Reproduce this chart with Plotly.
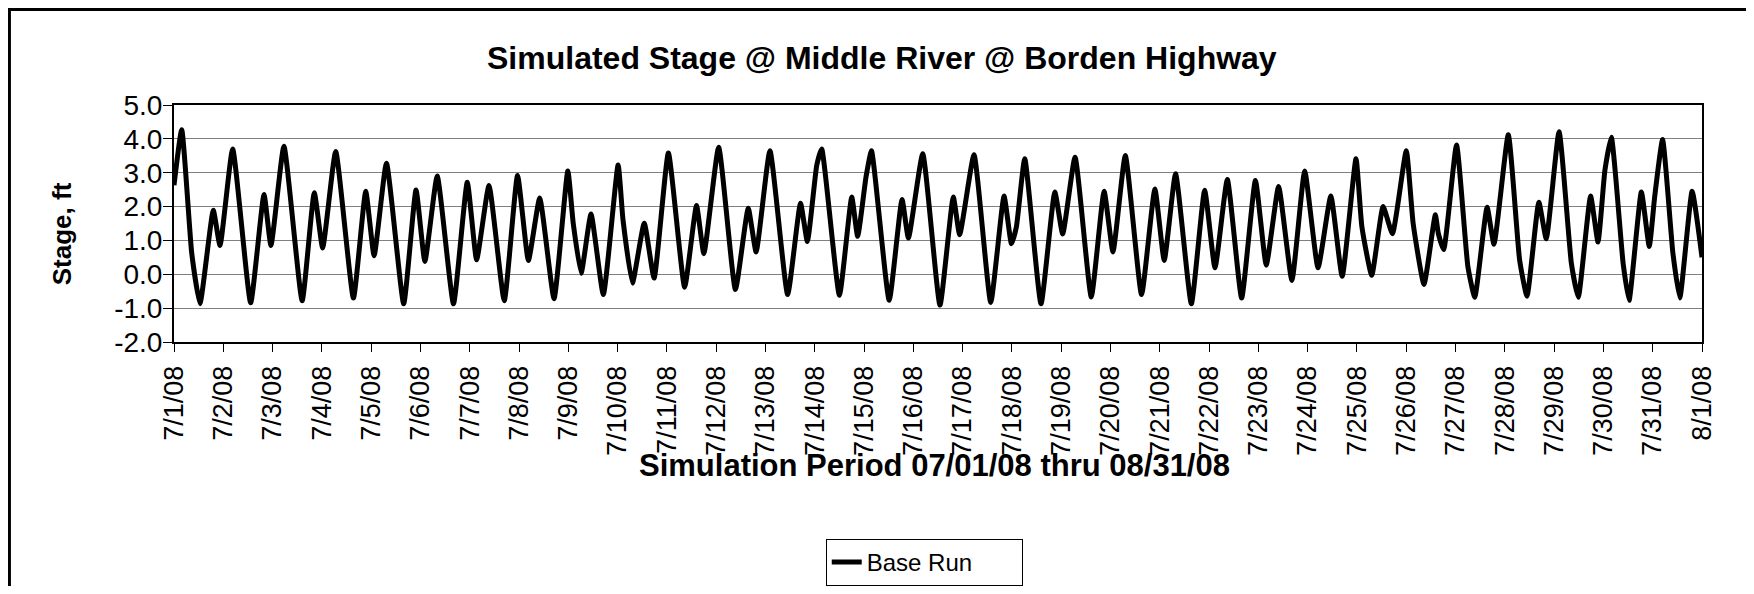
import pandas as pd
import plotly.graph_objects as go

# Elapsed time (days after 7/1/08 00:00) of readable turning points, and stage (ft)
elapsed_days = [
    0.00, 0.156, 0.36, 0.527, 0.797, 0.933, 1.19, 1.555, 1.826, 1.967,
    2.23, 2.60, 2.846, 3.016, 3.28, 3.64, 3.89, 4.06, 4.31, 4.66,
    4.91, 5.09, 5.34, 5.67, 5.95, 6.14, 6.39, 6.70, 6.97, 7.19,
    7.42, 7.71, 7.99, 8.10, 8.26, 8.46, 8.71, 9.01, 9.11, 9.30,
    9.54, 9.74, 10.03, 10.36, 10.60, 10.75, 11.05, 11.39, 11.65, 11.81,
    12.09, 12.45, 12.71, 12.85, 13.04, 13.14, 13.50, 13.75, 13.87, 14.04,
    14.15, 14.51, 14.77, 14.90, 15.19, 15.54, 15.81, 15.94, 16.23, 16.57,
    16.84, 16.99, 17.09, 17.26, 17.59, 17.87, 18.03, 18.28, 18.61, 18.87,
    19.05, 19.30, 19.63, 19.90, 20.09, 20.32, 20.64, 20.91, 21.12, 21.37,
    21.66, 21.94, 22.16, 22.41, 22.68, 22.94, 23.21, 23.47, 23.70, 23.98,
    24.10, 24.30, 24.53, 24.72, 25.00, 25.14, 25.36, 25.59, 25.65, 25.76,
    26.02, 26.25, 26.39, 26.64, 26.78, 27.07, 27.30, 27.45, 27.69, 27.84,
    28.10, 28.35, 28.49, 28.74, 28.89, 29.03, 29.16, 29.40, 29.52, 29.77,
    29.93, 30.04, 30.20, 30.41, 30.55, 30.80, 31.00,
]
stage_ft = [
    2.63, 4.27, 0.62, -0.87, 1.89, 0.85, 3.70, -0.84, 2.36, 0.85,
    3.78, -0.78, 2.41, 0.78, 3.63, -0.70, 2.45, 0.55, 3.28, -0.87,
    2.49, 0.38, 2.90, -0.87, 2.72, 0.43, 2.62, -0.78, 2.92, 0.41,
    2.25, -0.72, 3.05, 1.50, 0.03, 1.78, -0.60, 3.23, 1.60, -0.26,
    1.51, -0.11, 3.58, -0.38, 2.03, 0.61, 3.75, -0.45, 1.95, 0.66,
    3.65, -0.60, 2.10, 0.97, 3.22, 3.70, -0.62, 2.28, 1.12, 2.88,
    3.65, -0.77, 2.21, 1.07, 3.56, -0.91, 2.28, 1.17, 3.53, -0.83,
    2.31, 0.90, 1.40, 3.41, -0.87, 2.43, 1.19, 3.46, -0.67, 2.45,
    0.66, 3.51, -0.60, 2.52, 0.41, 2.97, -0.87, 2.48, 0.19, 2.80,
    -0.70, 2.77, 0.27, 2.59, -0.18, 3.05, 0.19, 2.31, -0.06, 3.41,
    1.40, -0.03, 2.00, 1.20, 3.65, 1.50, -0.30, 1.76, 1.21, 0.73,
    3.82, 0.23, -0.68, 1.98, 0.89, 4.12, 0.42, -0.65, 2.13, 1.05,
    4.21, 0.32, -0.68, 2.31, 0.95, 3.07, 4.05, 0.32, -0.77, 2.43,
    0.82, 2.29, 3.98, 0.62, -0.70, 2.45, 0.50,
]

tick_dates = pd.date_range("2008-07-01", "2008-08-01", freq="D")
tick_labels = [f"{d.month}/{d.day}/08" for d in tick_dates]
y_ticks = [-2, -1, 0, 1, 2, 3, 4, 5]

times = pd.Timestamp("2008-07-01") + pd.to_timedelta(elapsed_days, unit="D")

FONT = "Liberation Sans, Arial, sans-serif"

fig = go.Figure()
fig.add_trace(go.Scatter(
    x=times, y=stage_ft, mode="lines", name="Base Run",
    line=dict(color="black", width=5, shape="spline", smoothing=0.45),
))

# page body has an 8px margin; the figure is sized so nothing overflows
W, H = 1738, 578
L, R, T, B = 166, 44, 97, 244
fig.update_layout(
    width=W, height=H,
    margin=dict(l=L, r=R, t=T, b=B, autoexpand=False),
    paper_bgcolor="white", plot_bgcolor="white",
    font=dict(family=FONT, color="black", size=27),
    showlegend=True,
    legend=dict(
        orientation="h", xref="paper", x=0.491, xanchor="center",
        yref="container", y=0.0813, yanchor="top",
        bordercolor="black", borderwidth=1, bgcolor="white",
        font=dict(size=24), entrywidth=150,
    ),
    xaxis=dict(
        range=[tick_dates[0], tick_dates[-1]],
        tickvals=tick_dates, ticktext=tick_labels, tickangle=-90,
        ticks="outside", ticklen=8, tickcolor="black", tickwidth=1,
        showline=True, linecolor="black", linewidth=2, mirror=True,
        showgrid=False, zeroline=False, ticklabelstandoff=3,
        automargin=False,
        tickfont=dict(size=27),
    ),
    yaxis=dict(
        range=[-2, 5], tickvals=y_ticks,
        ticktext=[f"{v:.1f}" for v in y_ticks],
        ticks="outside", ticklen=9, tickcolor="black", tickwidth=1,
        showline=True, linecolor="black", linewidth=2, mirror=True,
        showgrid=True, gridcolor="#808080", gridwidth=1.3, zeroline=False,
        ticklabelstandoff=-5, automargin=False,
        tickfont=dict(size=28),
    ),
    annotations=[
        dict(text="<b>Simulated Stage @ Middle River @ Borden Highway</b>",
             xref="paper", yref="paper", x=0.4634, y=1.198,
             xanchor="center", yanchor="middle", showarrow=False,
             font=dict(size=32)),
        dict(text="<b>Simulation Period 07/01/08 thru 08/31/08</b>",
             xref="paper", yref="paper", x=0.498, y=-0.52,
             xanchor="center", yanchor="middle", showarrow=False,
             font=dict(size=31)),
        dict(text="<b>Stage, ft</b>", textangle=-90,
             xref="paper", yref="paper", x=-0.0736, y=0.457,
             xanchor="center", yanchor="middle", showarrow=False,
             font=dict(size=26)),
    ],
    shapes=[
        dict(type="rect", xref="paper", yref="paper",
             x0=-0.1077, x1=1.2, y0=-1.6, y1=1.403,
             line=dict(color="black", width=3), fillcolor="rgba(0,0,0,0)"),
    ],
)

fig.write_html("out.html")
